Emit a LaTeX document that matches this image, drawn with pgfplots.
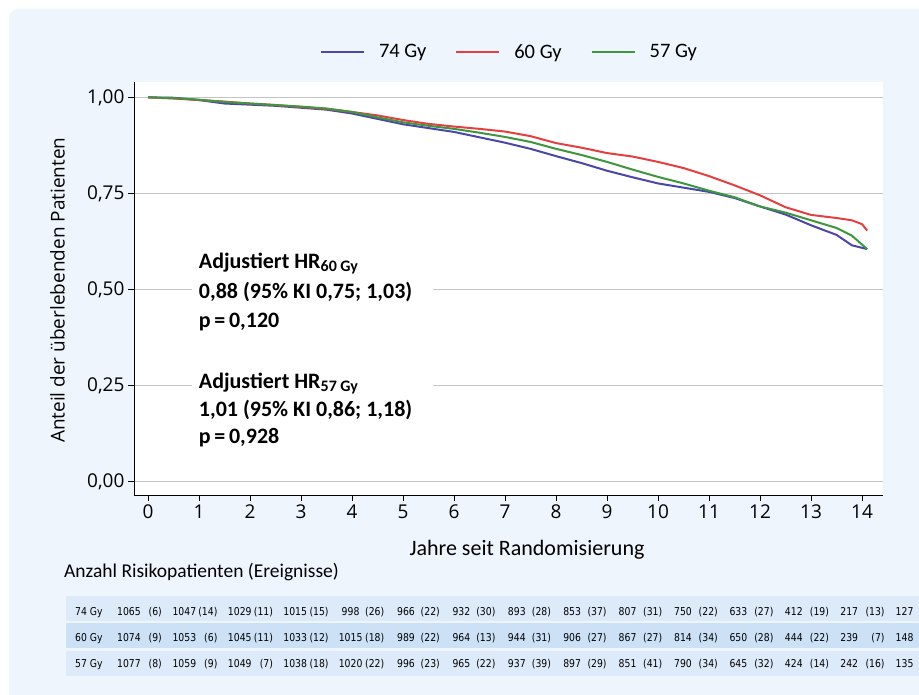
\documentclass[border=0pt]{standalone}
\usepackage{fontspec}
\setmainfont{Carlito}
\newfontfamily\osans{Open Sans}
\newfontfamily\tabfont[FakeStretch=0.86]{DejaVu Sans}
\usepackage{pgfplots}
\pgfplotsset{compat=1.18}

\definecolor{bgblue}{HTML}{EEF5FD}
\definecolor{rowA}{HTML}{DDEAF9}
\definecolor{rowB}{HTML}{CDE1F6}
\definecolor{c74}{HTML}{4A47A8}
\definecolor{c60}{HTML}{E5403F}
\definecolor{c57}{HTML}{3E963E}
\definecolor{gridgray}{HTML}{C4C4C4}

\newcommand\tabsize{\tabfont\fontsize{10.8}{10.8}\selectfont}

% one row of the at-risk table: baseline y (px), label, number/events list
\newcommand\riskrow[3]{%
  \node[anchor=base west, inner sep=0pt, font=\tabsize] at (75pt,-#1pt) {#2};
  \foreach \n/\e [count=\k from 0] in {#3} {
    \node[anchor=base, inner sep=0pt, font=\tabsize] at ({129pt+55.4pt*\k},-#1pt) {\n};
    \node[anchor=base east, inner sep=0pt, font=\tabsize] at ({162pt+55.6pt*\k},-#1pt) {(\e)};
  }
}

\begin{document}
\begin{tikzpicture}
\useasboundingbox (0,0) rectangle (919pt,-695pt);
\clip (0,0) rectangle (919pt,-695pt);
\fill[white] (0,0) rectangle (919pt,-695pt);
\fill[bgblue, rounded corners=9pt] (9pt,-9pt) rectangle (940pt,-715pt);

% table bands
\fill[rowA] (66pt,-596pt) rectangle (919pt,-621pt);
\fill[rowB] (66pt,-623pt) rectangle (919pt,-648pt);
\fill[rowA] (66pt,-651pt) rectangle (919pt,-676pt);

\begin{axis}[
  at={(134pt,-495pt)}, anchor=south west,
  width=749pt, height=413pt, scale only axis,
  xmin=-0.275, xmax=14.41, ymin=-0.035, ymax=1.04,
  axis x line*=bottom, axis y line*=left,
  axis line style={black, line width=1pt},
  axis background/.style={fill=white},
  xtick={0,...,14},
  xticklabels={0,1,2,3,4,5,6,7,8,9,10,11,12,13,14},
  ytick={0,0.25,0.5,0.75,1},
  yticklabels={{0,00},{0,25},{0,50},{0,75},{1,00}},
  ticklabel style={font=\osans\fontsize{19}{19}\selectfont},
  tick align=outside, major tick length=6pt,
  tick style={black, line width=1pt},
  ymajorgrids, grid style={gridgray, line width=1pt},
  xlabel={Jahre seit Randomisierung},
  ylabel={Anteil der überlebenden Patienten},
  xlabel style={font=\fontsize{22}{22}\selectfont, at={(axis description cs:0.5247,-0.1453)}, anchor=base},
  ylabel style={font=\osans\fontsize{19}{19}\selectfont, at={(axis description cs:-0.1021,0.496)}, anchor=center},
  legend columns=3,
  legend style={at={(0.5,1.073)}, anchor=center, draw=none, fill=none,
    font=\fontsize{20.5}{20.5}\selectfont, nodes={inner sep=0pt},
    /tikz/every odd column/.append style={column sep=14pt},
    /tikz/every even column/.append style={column sep=29pt}},
  legend image code/.code={\draw[#1] (0pt,0pt) -- (43pt,0pt);},
]
  \addplot[c74, line width=2pt, line join=round] coordinates {
    (0,1) (0.5,0.999) (1,0.993) (1.5,0.984) (2,0.981) (2.5,0.978) (3,0.973) (3.5,0.968)
    (4,0.958) (4.5,0.944) (5,0.930) (5.5,0.920) (6,0.910) (6.5,0.896) (7,0.882) (7.5,0.866)
    (8,0.847) (8.5,0.829) (9,0.809) (9.5,0.792) (10,0.776) (10.5,0.765) (11,0.754) (11.5,0.738)
    (12,0.716) (12.5,0.695) (13,0.667) (13.5,0.642) (13.8,0.615) (14.1,0.605)
  };
  \addlegendentry{74 Gy}
  \addplot[c60, line width=2pt, line join=round] coordinates {
    (0,1) (0.5,0.997) (1,0.993) (1.5,0.989) (2,0.984) (2.5,0.980) (3,0.975) (3.5,0.970)
    (4,0.962) (4.5,0.953) (5,0.941) (5.5,0.931) (6,0.924) (6.5,0.918) (7,0.911) (7.5,0.899)
    (8,0.881) (8.5,0.869) (9,0.855) (9.5,0.846) (10,0.832) (10.5,0.816) (11,0.795) (11.5,0.771)
    (12,0.745) (12.5,0.714) (13,0.694) (13.5,0.686) (13.8,0.680) (14.0,0.670) (14.1,0.653)
  };
  \addlegendentry{60 Gy}
  \addplot[c57, line width=2pt, line join=round] coordinates {
    (0,1) (0.5,0.998) (1,0.994) (1.5,0.988) (2,0.984) (2.5,0.980) (3,0.976) (3.5,0.971)
    (4,0.962) (4.5,0.948) (5,0.935) (5.5,0.926) (6,0.918) (6.5,0.908) (7,0.897) (7.5,0.884)
    (8,0.866) (8.5,0.850) (9,0.832) (9.5,0.812) (10,0.793) (10.5,0.776) (11,0.757) (11.5,0.740)
    (12,0.716) (12.5,0.700) (13,0.680) (13.5,0.660) (13.8,0.640) (14.1,0.605)
  };
  \addlegendentry{57 Gy}

  % hazard ratio boxes
  \fill[white] (axis cs:0.857,0.597) rectangle (axis cs:5.582,0.381);
  \fill[white] (axis cs:0.857,0.2846) rectangle (axis cs:5.582,0.0685);
  \begin{scope}[every node/.style={anchor=base west, inner sep=0pt, font=\bfseries\fontsize{22}{22}\selectfont}]
    \node at (axis cs:0.994,0.5555) {Adjustiert HR\raisebox{-3.5pt}{\fontsize{16}{16}\selectfont 60 Gy}};
    \node at (axis cs:0.994,0.4773) {0,88 (95\% KI 0,75; 1,03)};
    \node at (axis cs:0.994,0.4018) {p\,=\,0,120};
    \node at (axis cs:0.994,0.2430) {Adjustiert HR\raisebox{-3.5pt}{\fontsize{16}{16}\selectfont 57 Gy}};
    \node at (axis cs:0.994,0.1700) {1,01 (95\% KI 0,86; 1,18)};
    \node at (axis cs:0.994,0.0997) {p\,=\,0,928};
  \end{scope}
\end{axis}

\node[anchor=base west, inner sep=0pt, font=\fontsize{19.5}{19.5}\selectfont] at (64pt,-577pt) {Anzahl Risikopatienten (Ereignisse)};

\riskrow{615}{74 Gy}{1065/6, 1047/14, 1029/11, 1015/15, 998/26, 966/22, 932/30, 893/28, 853/37, 807/31, 750/22, 633/27, 412/19, 217/13}
\riskrow{641.5}{60 Gy}{1074/9, 1053/6, 1045/11, 1033/12, 1015/18, 989/22, 964/13, 944/31, 906/27, 867/27, 814/34, 650/28, 444/22, 239/7}
\riskrow{667}{57 Gy}{1077/8, 1059/9, 1049/7, 1038/18, 1020/22, 996/23, 965/22, 937/39, 897/29, 851/41, 790/34, 645/32, 424/14, 242/16}
\begin{scope}[every node/.style={anchor=base, inner sep=0pt, font=\tabsize}]
  \node at ({129pt+55.4pt*14},-615pt) {127};
  \node at ({129pt+55.4pt*14},-641.5pt) {148};
  \node at ({129pt+55.4pt*14},-667pt) {135};
\end{scope}
\end{tikzpicture}
\end{document}
